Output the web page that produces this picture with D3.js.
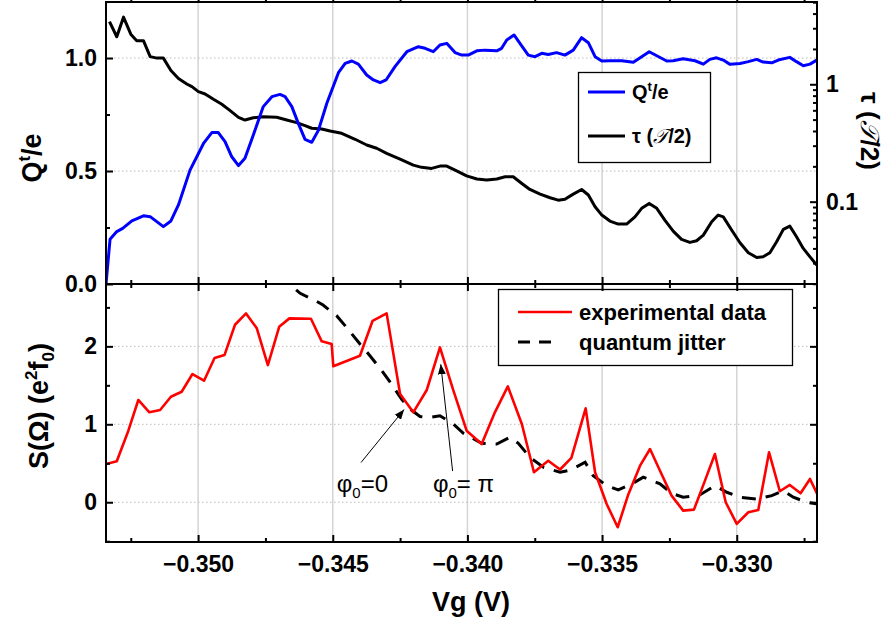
<!DOCTYPE html>
<html><head><meta charset="utf-8">
<script src="https://cdn.jsdelivr.net/npm/d3@7"></script>
<style>body{margin:0;background:#fff} text{font-family:"Liberation Sans",Arial,sans-serif}</style>
</head><body><svg id="c" width="889" height="624"></svg>
<script>
// ---------------- data ----------------
const xTicks = [-0.350, -0.345, -0.340, -0.335, -0.330];
const xMinor = [-0.3525, -0.3475, -0.3425, -0.3375, -0.3325, -0.3275];
const qTicks = [0, 0.5, 1.0];
const qMinor = [0.25, 0.75, 1.25];
const tauTicks = [0.1, 1];
const tauMinor = [0.02,0.03,0.04,0.05,0.06,0.07,0.08,0.09,0.2,0.3,0.4,0.5,0.6,0.7,0.8,0.9,2,3,4,5];
const sTicks = [0, 1, 2];
const sMinor = [-0.5, 0.5, 1.5, 2.5];

// Q^t/e (blue)
const qVg = [-0.35342,-0.35327,-0.35302,-0.35280,-0.35246,-0.35203,-0.35178,-0.35129,-0.35101,-0.35073,-0.35030,-0.34980,-0.34949,-0.34925,-0.34900,-0.34875,-0.34850,-0.34826,-0.34795,-0.34758,-0.34726,-0.34696,-0.34677,-0.34652,-0.34628,-0.34603,-0.34578,-0.34553,-0.34522,-0.34479,-0.34454,-0.34429,-0.34405,-0.34374,-0.34349,-0.34324,-0.34302,-0.34269,-0.34225,-0.34182,-0.34157,-0.34127,-0.34102,-0.34077,-0.34046,-0.34021,-0.33997,-0.33965,-0.33935,-0.33891,-0.33873,-0.33854,-0.33827,-0.33805,-0.33774,-0.33749,-0.33724,-0.33700,-0.33669,-0.33638,-0.33607,-0.33576,-0.33551,-0.33526,-0.33501,-0.33471,-0.33427,-0.33384,-0.33353,-0.33325,-0.33297,-0.33260,-0.33236,-0.33199,-0.33155,-0.33124,-0.33100,-0.33075,-0.33050,-0.33025,-0.32988,-0.32957,-0.32926,-0.32902,-0.32870,-0.32846,-0.32803,-0.32778,-0.32753,-0.32728,-0.32703];
const qVal = [0.0,0.198,0.232,0.246,0.279,0.302,0.298,0.254,0.279,0.350,0.504,0.622,0.670,0.670,0.630,0.563,0.524,0.556,0.659,0.785,0.829,0.839,0.829,0.785,0.711,0.640,0.627,0.681,0.800,0.935,0.976,0.987,0.973,0.925,0.903,0.891,0.903,0.962,1.028,1.050,1.043,1.028,1.058,1.065,1.024,1.013,1.013,1.032,1.035,1.032,1.043,1.080,1.102,1.065,1.013,1.006,1.021,1.016,1.024,1.013,1.035,1.090,1.068,1.006,0.987,0.988,0.988,0.981,1.006,1.028,1.010,0.987,0.988,0.997,0.988,0.973,0.994,1.001,0.991,0.972,0.976,0.984,0.994,0.982,0.979,0.991,1.003,0.984,0.966,0.973,0.991];

// tau (T/2) (black, log axis)
const tauVg = [-0.35329,-0.35302,-0.35277,-0.35250,-0.35228,-0.35203,-0.35178,-0.35153,-0.35129,-0.35101,-0.35073,-0.35042,-0.35023,-0.34999,-0.34974,-0.34943,-0.34912,-0.34881,-0.34850,-0.34826,-0.34795,-0.34758,-0.34708,-0.34671,-0.34634,-0.34603,-0.34578,-0.34541,-0.34510,-0.34467,-0.34417,-0.34374,-0.34337,-0.34300,-0.34250,-0.34201,-0.34170,-0.34133,-0.34102,-0.34077,-0.34040,-0.34003,-0.33965,-0.33928,-0.33891,-0.33860,-0.33830,-0.33798,-0.33768,-0.33730,-0.33693,-0.33663,-0.33638,-0.33607,-0.33576,-0.33551,-0.33526,-0.33501,-0.33471,-0.33440,-0.33409,-0.33378,-0.33353,-0.33325,-0.33297,-0.33267,-0.33236,-0.33205,-0.33174,-0.33149,-0.33124,-0.33093,-0.33069,-0.33050,-0.33019,-0.32988,-0.32957,-0.32926,-0.32902,-0.32877,-0.32852,-0.32827,-0.32803,-0.32778,-0.32753,-0.32728,-0.32703];
const tauVal = [3.42,2.54,3.73,2.67,2.35,2.35,1.72,1.67,1.67,1.31,1.12,1.006,0.954,0.865,0.827,0.745,0.675,0.596,0.523,0.496,0.519,0.529,0.523,0.496,0.471,0.444,0.422,0.416,0.400,0.382,0.340,0.304,0.285,0.258,0.230,0.205,0.196,0.192,0.201,0.201,0.183,0.166,0.156,0.153,0.156,0.163,0.163,0.143,0.127,0.116,0.108,0.103,0.105,0.116,0.127,0.114,0.0905,0.0769,0.0684,0.0645,0.0645,0.0743,0.0877,0.0967,0.0877,0.0697,0.0561,0.0477,0.0450,0.0465,0.0519,0.0674,0.0769,0.0743,0.0573,0.0447,0.0367,0.0335,0.0339,0.0367,0.0455,0.0581,0.0619,0.0502,0.0400,0.0339,0.0288];

// S(Omega) experimental data (red)
const expVg = [-0.35342,-0.35302,-0.35259,-0.35222,-0.35181,-0.35141,-0.35101,-0.35061,-0.35021,-0.34978,-0.34939,-0.34902,-0.34863,-0.34822,-0.34782,-0.34741,-0.34699,-0.34661,-0.34581,-0.34541,-0.34504,-0.34498,-0.34399,-0.34352,-0.34300,-0.34250,-0.34201,-0.34151,-0.34102,-0.34052,-0.34003,-0.33947,-0.33898,-0.33850,-0.33798,-0.33753,-0.33700,-0.33656,-0.33614,-0.33561,-0.33526,-0.33483,-0.33442,-0.33403,-0.33359,-0.33322,-0.33285,-0.33242,-0.33199,-0.33159,-0.33118,-0.33081,-0.33041,-0.33000,-0.32957,-0.32920,-0.32880,-0.32840,-0.32803,-0.32763,-0.32728,-0.32700];
const expVal = [0.491,0.526,0.918,1.312,1.154,1.183,1.354,1.418,1.645,1.559,1.850,1.888,2.277,2.423,2.231,1.760,2.251,2.359,2.354,2.064,2.029,1.744,1.880,2.328,2.423,1.388,1.154,1.440,1.987,1.431,0.918,0.747,1.154,1.487,1.004,0.385,0.533,0.420,0.570,1.205,0.385,-0.022,-0.321,0.097,0.469,0.683,0.405,0.085,-0.108,-0.095,0.277,0.619,0.0,-0.278,-0.128,-0.099,0.641,0.141,0.222,0.115,0.299,0.097];

// S(Omega) quantum jitter (black dashed)
const jitVg = [-0.34696,-0.34677,-0.34621,-0.34566,-0.34536,-0.34485,-0.34448,-0.34399,-0.34362,-0.34318,-0.34287,-0.34244,-0.34213,-0.34176,-0.34139,-0.34102,-0.34052,-0.34015,-0.33947,-0.33891,-0.33842,-0.33811,-0.33768,-0.33718,-0.33656,-0.33619,-0.33563,-0.33533,-0.33483,-0.33440,-0.33390,-0.33347,-0.33285,-0.33242,-0.33199,-0.33137,-0.33081,-0.33037,-0.32988,-0.32926,-0.32870,-0.32827,-0.32790,-0.32740,-0.32705];
const jitVal = [2.95,2.85,2.68,2.59,2.53,2.39,2.24,2.03,1.88,1.69,1.54,1.32,1.196,1.10,1.09,1.11,1.004,0.885,0.756,0.747,0.833,0.756,0.577,0.449,0.385,0.41,0.513,0.341,0.213,0.158,0.235,0.321,0.235,0.115,0.064,0.094,0.213,0.128,0.064,0.042,0.085,0.149,0.064,0.0,-0.02];

// annotations: [label, sub, rest, textVg, textS, tailVg, tailS, headVg, headS]
const annots = [
  ["φ", "0", "=0", -0.34485, 0.13, -0.34395, 0.51, -0.34235, 1.19],
  ["φ", "0", "= π", -0.34128, 0.13, -0.34055, 0.40, -0.34099, 1.77]
];

// ---------------- layout ----------------
const L = 106, R = 817, T1 = 2, B1 = 284, T2 = 284, B2 = 542;
const svg = d3.select("#c");
const x = d3.scaleLinear().domain([-0.35342, -0.32702]).range([L, R]);
const yQ = d3.scaleLinear().domain([0, 1.248]).range([B1, T1]);
const yT = d3.scaleLog().domain([0.0199, 5.02]).range([B1, T1]);
const yS = d3.scaleLinear().domain([-0.51, 2.80]).range([B2, T2]);

const defs = svg.append("defs");
defs.append("clipPath").attr("id","cp1").append("rect").attr("x",L).attr("y",T1).attr("width",R-L).attr("height",B1-T1);
defs.append("clipPath").attr("id","cp2").append("rect").attr("x",L).attr("y",T2).attr("width",R-L).attr("height",B2-T2);
defs.append("marker").attr("id","arr").attr("viewBox","0 0 10 10").attr("refX",10).attr("refY",5)
  .attr("markerWidth",10).attr("markerHeight",10).attr("markerUnits","userSpaceOnUse").attr("orient","auto")
  .append("path").attr("d","M0,1 L10,5 L0,9 Z").attr("fill","#000");

// grids
const grid = svg.append("g");
[[T1,B1],[T2,B2]].forEach(([t,b]) => {
  grid.selectAll(null).data(xTicks).enter().append("line")
    .attr("x1",d=>x(d)).attr("x2",d=>x(d)).attr("y1",t).attr("y2",b)
    .attr("stroke","#d4d4d4").attr("stroke-width",1.5);
});
grid.selectAll(null).data(qTicks.filter(d=>d>0)).enter().append("line")
  .attr("x1",L).attr("x2",R).attr("y1",d=>yQ(d)).attr("y2",d=>yQ(d))
  .attr("stroke","#bbb").attr("stroke-width",1).attr("stroke-dasharray","1.5,2.5");
grid.selectAll(null).data(sTicks).enter().append("line")
  .attr("x1",L).attr("x2",R).attr("y1",d=>yS(d)).attr("y2",d=>yS(d))
  .attr("stroke","#bbb").attr("stroke-width",1).attr("stroke-dasharray","1.5,2.5");

// curves
const p1 = svg.append("g").attr("clip-path","url(#cp1)");
const p2 = svg.append("g").attr("clip-path","url(#cp2)");
const qData = qVg.map((v,i)=>[v,qVal[i]]);
const tData = tauVg.map((v,i)=>[v,tauVal[i]]);
const eData = expVg.map((v,i)=>[v,expVal[i]]);
const jData = jitVg.map((v,i)=>[v,jitVal[i]]);
p1.append("path").datum(tData).attr("fill","none").attr("stroke","#000").attr("stroke-width",3).attr("stroke-linejoin","round")
  .attr("d", d3.line().x(d=>x(d[0])).y(d=>yT(d[1])));
p1.append("path").datum(qData).attr("fill","none").attr("stroke","#0000ff").attr("stroke-width",3).attr("stroke-linejoin","round")
  .attr("d", d3.line().x(d=>x(d[0])).y(d=>yQ(d[1])));
p2.append("path").datum(jData).attr("fill","none").attr("stroke","#000").attr("stroke-width",3).attr("stroke-dasharray","14,10")
  .attr("d", d3.line().x(d=>x(d[0])).y(d=>yS(d[1])));
p2.append("path").datum(eData).attr("fill","none").attr("stroke","#ff0000").attr("stroke-width",2.6).attr("stroke-linejoin","round")
  .attr("d", d3.line().x(d=>x(d[0])).y(d=>yS(d[1])));

// annotations
annots.forEach(a => {
  svg.append("line").attr("x1",x(a[5])).attr("y1",yS(a[6])).attr("x2",x(a[7])).attr("y2",yS(a[8]))
    .attr("stroke","#000").attr("stroke-width",1).attr("marker-end","url(#arr)");
  const t = svg.append("text").attr("x",x(a[3])).attr("y",yS(a[4])).attr("font-size",24).attr("fill","#000");
  t.append("tspan").text(a[0]);
  t.append("tspan").attr("dy",6).attr("font-size",15).text(a[1]);
  t.append("tspan").attr("dy",-6).text(a[2]);
});

// legends
const lg1 = svg.append("g");
lg1.append("rect").attr("x",578.5).attr("y",72.5).attr("width",132).attr("height",90).attr("fill","#fff").attr("stroke","#000").attr("stroke-width",1.3);
lg1.append("line").attr("x1",588).attr("x2",625).attr("y1",92).attr("y2",92).attr("stroke","#0000ff").attr("stroke-width",3);
lg1.append("line").attr("x1",588).attr("x2",625).attr("y1",136).attr("y2",136).attr("stroke","#000").attr("stroke-width",3);
const lt1 = lg1.append("text").attr("x",632).attr("y",99).attr("font-size",20).attr("font-weight","bold");
lt1.append("tspan").text("Q"); lt1.append("tspan").attr("dy",-8).attr("font-size",13).text("t"); lt1.append("tspan").attr("dy",8).text("/e");
const lt2 = lg1.append("text").attr("x",632).attr("y",143).attr("font-size",20).attr("font-weight","bold");
lt2.append("tspan").text("τ ("); lt2.append("tspan").attr("font-family","DejaVu Serif").attr("font-style","italic").attr("font-weight","normal").text("𝒯");
lt2.append("tspan").text("/2)");

const lg2 = svg.append("g");
lg2.append("rect").attr("x",498.5).attr("y",289.5).attr("width",294).attr("height",76).attr("fill","#fff").attr("stroke","#000").attr("stroke-width",1.3);
lg2.append("line").attr("x1",518).attr("x2",572).attr("y1",312).attr("y2",312).attr("stroke","#ff0000").attr("stroke-width",2.6);
lg2.append("line").attr("x1",518).attr("x2",558).attr("y1",342).attr("y2",342).attr("stroke","#000").attr("stroke-width",3).attr("stroke-dasharray","12,9");
lg2.append("text").attr("x",579).attr("y",320).attr("font-size",22).attr("font-weight","bold").text("experimental data");
lg2.append("text").attr("x",579).attr("y",350).attr("font-size",22).attr("font-weight","bold").text("quantum jitter");

// frames
svg.append("rect").attr("x",L).attr("y",T1).attr("width",R-L).attr("height",B1-T1).attr("fill","none").attr("stroke","#000").attr("stroke-width",2);
svg.append("rect").attr("x",L).attr("y",T2).attr("width",R-L).attr("height",B2-T2).attr("fill","none").attr("stroke","#000").attr("stroke-width",2);

// axes
function ax(gen, tx, ty, vals, size, fmt, fs) {
  const g = svg.append("g").attr("transform",`translate(${tx},${ty})`)
    .call(gen.tickValues(vals).tickSize(size).tickPadding(9).tickFormat(fmt));
  g.select(".domain").remove();
  g.selectAll("line").attr("stroke","#000").attr("stroke-width",2);
  g.selectAll("text").attr("font-size",fs||23).attr("font-weight","bold").attr("font-family","Liberation Sans, Arial, sans-serif").attr("fill","#000");
  return g;
}
const none = () => "";
// top panel
ax(d3.axisLeft(yQ), L, 0, qTicks, -7, d3.format(".1f"));
ax(d3.axisLeft(yQ), L, 0, qMinor, -4, none);
ax(d3.axisRight(yT), R, 0, tauTicks, -7, d => d===1 ? "1" : "0.1").selectAll("text").attr("x", 9);
ax(d3.axisRight(yT), R, 0, tauMinor, -4, none);
ax(d3.axisTop(x), 0, B1, xTicks, -7, none);
ax(d3.axisTop(x), 0, B1, xMinor, -4, none);
ax(d3.axisBottom(x), 0, T1, xTicks, -7, none);
ax(d3.axisBottom(x), 0, T1, xMinor, -4, none);
// bottom panel
ax(d3.axisLeft(yS), L, 0, sTicks, -7, d3.format("d"));
ax(d3.axisLeft(yS), L, 0, sMinor, -4, none);
ax(d3.axisRight(yS), R, 0, sTicks, -7, none);
ax(d3.axisRight(yS), R, 0, sMinor, -4, none);
ax(d3.axisBottom(x), 0, T2, xTicks, -7, none);
ax(d3.axisBottom(x), 0, T2, xMinor, -4, none);
ax(d3.axisBottom(x), 0, B2, xTicks, -7, d3.format(".3f")).selectAll("text").attr("y", 14);
ax(d3.axisBottom(x), 0, B2, xMinor, -4, none);

// axis titles
const tq = svg.append("text").attr("transform","translate(41,158) rotate(-90)").attr("text-anchor","middle")
  .attr("font-size",27).attr("font-weight","bold");
tq.append("tspan").text("Q"); tq.append("tspan").attr("dy",-11).attr("font-size",17).text("t"); tq.append("tspan").attr("dy",11).text("/e");

const ts = svg.append("text").attr("transform","translate(48,406) rotate(-90)").attr("text-anchor","middle")
  .attr("font-size",27).attr("font-weight","bold");
ts.append("tspan").text("S(Ω) (e");
ts.append("tspan").attr("dy",-11).attr("font-size",17).text("2");
ts.append("tspan").attr("dy",11).text("f");
ts.append("tspan").attr("dy",6).attr("font-size",17).text("0");
ts.append("tspan").attr("dy",-6).text(")");

const tt = svg.append("text").attr("transform","translate(861,131) rotate(90)").attr("text-anchor","middle")
  .attr("font-size",26).attr("font-weight","bold");
tt.append("tspan").text("τ (");
tt.append("tspan").attr("font-family","DejaVu Serif").attr("font-style","italic").attr("font-weight","normal").text("𝒯");
tt.append("tspan").text("/2)");

svg.append("text").attr("x",471).attr("y",611).attr("text-anchor","middle").attr("font-size",27).attr("font-weight","bold").text("Vg (V)");
</script></body></html>
